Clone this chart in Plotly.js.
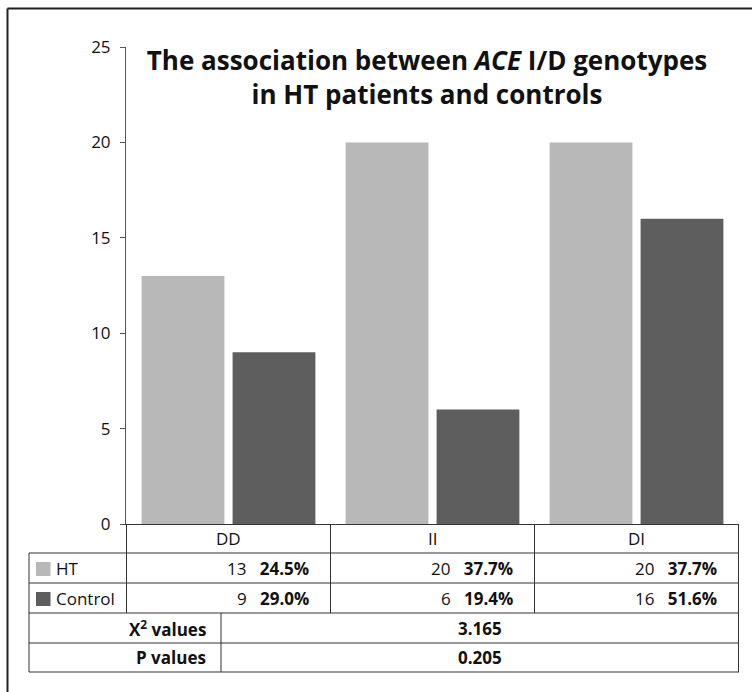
<!DOCTYPE html>
<html>
<head>
<meta charset="utf-8">
<script src="https://cdn.plot.ly/plotly-3.0.1.min.js"></script>
<style>
  html, body { margin: 0; padding: 0; background: #fff; }
  #chart { width: 752px; height: 692px; }
</style>
</head>
<body>
<div id="chart"></div>
<script>
// ACE I/D genotype counts in HT patients and controls
const genotypes = ['DD', 'II', 'DI'];
const htCounts = [13, 20, 20];
const controlCounts = [9, 6, 16];
const chiSquare = '3.165';
const pValue = '0.205';
const yTicks = [0, 5, 10, 15, 20, 25];

const W = 752, H = 692;
const M = { l: 126, r: 13, t: 47, b: 168 };
const plotW = W - M.l - M.r;
const plotH = H - M.t - M.b;
const bottomPx = H - M.b;

// pixel helpers for the table drawn under the plot area
const px = x => (x - M.l) / plotW;
const py = y => (bottomPx - y) / plotH;

const FONT = 'Open Sans, Noto Sans, sans-serif';
const FS = 17;
const LINE = '#333';
const htColor = '#b8b8b8';
const ctColor = '#5e5e5e';

const pct = (v, arr) => (100 * v / arr.reduce((a, b) => a + b, 0)).toFixed(1) + '%';

const traces = [
  { type: 'bar', name: 'HT', x: genotypes, y: htCounts, marker: { color: htColor } },
  { type: 'bar', name: 'Control', x: genotypes, y: controlCounts, marker: { color: ctColor } }
];

// table rows (pixel y of horizontal rules)
const rowY = [bottomPx, 553, 583, 613, 643, 672];
const tableLeft = 29, splitX = 221;
const shapes = [];
const hline = (y, x0, x1) => shapes.push({ type: 'line', xref: 'paper', yref: 'paper',
  x0: px(x0), x1: px(x1), y0: py(y), y1: py(y), line: { color: LINE, width: 1 } });
const vlineData = (x, y0, y1) => shapes.push({ type: 'line', xref: 'x', yref: 'paper',
  x0: x, x1: x, y0: py(y0), y1: py(y1), line: { color: LINE, width: 1 } });
const vlinePx = (x, y0, y1) => shapes.push({ type: 'line', xref: 'paper', yref: 'paper',
  x0: px(x), x1: px(x), y0: py(y0), y1: py(y1), line: { color: LINE, width: 1 } });

for (let r = 1; r < rowY.length; r++) hline(rowY[r], tableLeft, W - M.r);
vlinePx(tableLeft, rowY[1], rowY[5]);
for (let i = 0; i <= genotypes.length; i++) {
  const yEnd = i === genotypes.length ? rowY[5] : rowY[3];
  vlineData(i - 0.5, rowY[0], yEnd);
}
vlinePx(splitX, rowY[3], rowY[5]);

// outer frame (left and top edges)
shapes.push({ type: 'line', xref: 'paper', yref: 'paper', x0: px(7.5), x1: px(760),
  y0: py(8.5), y1: py(8.5), line: { color: '#222', width: 2 } });
shapes.push({ type: 'line', xref: 'paper', yref: 'paper', x0: px(7.5), x1: px(7.5),
  y0: py(8.5), y1: py(700), line: { color: '#222', width: 2 } });

// legend swatches inside the table
const swatch = (yc, color) => shapes.push({ type: 'rect', xref: 'paper', yref: 'paper',
  x0: px(36), x1: px(50.5), y0: py(yc - 7), y1: py(yc + 7), line: { width: 0 }, fillcolor: color });
const midY = r => (rowY[r] + rowY[r + 1]) / 2;
swatch(midY(1) + 1, htColor);
swatch(midY(2) + 1, ctColor);

const annotations = [];
const txt = (o) => annotations.push(Object.assign({ showarrow: false, yanchor: 'middle',
  font: { family: FONT, size: FS, color: '#111' } }, o));

genotypes.forEach((g, i) => {
  txt({ xref: 'x', yref: 'paper', x: i, y: py(midY(0)), text: g, xanchor: 'center' });
  txt({ xref: 'x', yref: 'paper', x: i + 0.5, xshift: -20, y: py(midY(1)), xanchor: 'right',
        text: htCounts[i] + '&nbsp;&nbsp;&nbsp;<b>' + pct(htCounts[i], htCounts) + '</b>' });
  txt({ xref: 'x', yref: 'paper', x: i + 0.5, xshift: -20, y: py(midY(2)), xanchor: 'right',
        text: controlCounts[i] + '&nbsp;&nbsp;&nbsp;<b>' + pct(controlCounts[i], controlCounts) + '</b>' });
});
txt({ xref: 'paper', yref: 'paper', x: px(54), y: py(midY(1)), xanchor: 'left', text: 'HT' });
txt({ xref: 'paper', yref: 'paper', x: px(54), y: py(midY(2)), xanchor: 'left', text: 'Control' });
txt({ xref: 'paper', yref: 'paper', x: px(208), y: py(midY(3)), xanchor: 'right', text: '<b>X<sup>2</sup> values</b>' });
txt({ xref: 'paper', yref: 'paper', x: px(208), y: py(midY(4)), xanchor: 'right', text: '<b>P values</b>' });
txt({ xref: 'paper', yref: 'paper', x: px((splitX + W - M.r) / 2), y: py(midY(3)), xanchor: 'center', text: '<b>' + chiSquare + '</b>' });
txt({ xref: 'paper', yref: 'paper', x: px((splitX + W - M.r) / 2), y: py(midY(4)), xanchor: 'center', text: '<b>' + pValue + '</b>' });

const layout = {
  width: W, height: H,
  margin: M,
  paper_bgcolor: '#fff', plot_bgcolor: '#fff',
  showlegend: false,
  barmode: 'group', bargap: 0.108, bargroupgap: 0.09,
  title: {
    text: '<b>The association between <i>ACE</i> I/D genotypes<br>in HT patients and controls</b>',
    font: { family: FONT, size: 26, color: '#111' },
    xref: 'paper', x: px(427), xanchor: 'center',
    yref: 'container', y: 1 - 70 / H, yanchor: 'middle'
  },
  xaxis: {
    showticklabels: false, ticks: '', showgrid: false, zeroline: false,
    showline: true, linecolor: LINE, linewidth: 1, fixedrange: true
  },
  yaxis: {
    range: [0, 25], tickvals: yTicks, ticks: 'outside', ticklen: 5, tickcolor: '#555',
    showline: true, linecolor: '#555', linewidth: 1, showgrid: false, zeroline: false,
    tickfont: { family: FONT, size: FS, color: '#111' }, ticklabelstandoff: 6, fixedrange: true
  },
  shapes: shapes,
  annotations: annotations
};

Plotly.newPlot('chart', traces, layout, { staticPlot: true, displayModeBar: false });
</script>
</body>
</html>
